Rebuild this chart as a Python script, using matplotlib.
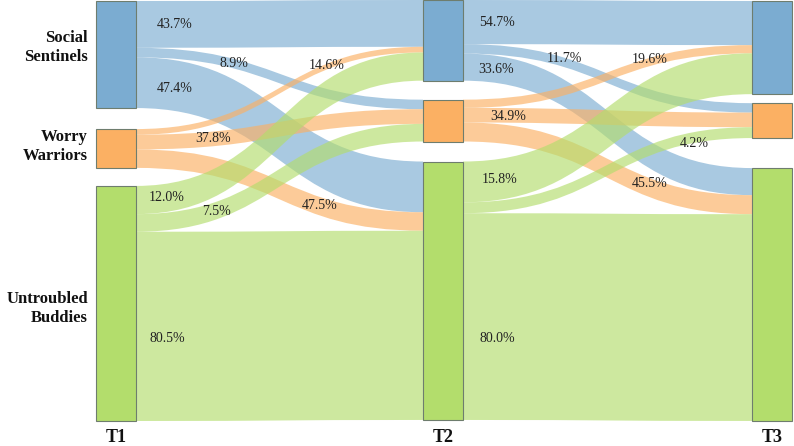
import numpy as np
import matplotlib
matplotlib.use("Agg")
import matplotlib.pyplot as plt
from matplotlib.path import Path
from matplotlib.patches import PathPatch, Rectangle

# ---------------- data ----------------
categories = ["Social\nSentinels", "Worry\nWarriors", "Untroubled\nBuddies"]
timepoints = ["T1", "T2", "T3"]
t1_share = [28.1, 10.2, 61.7]          # % of sample in each profile at T1
flows_t1_t2 = [[43.7, 8.9, 47.4],      # row = source profile, col = target profile (% of source)
               [14.6, 37.8, 47.5],
               [12.0, 7.5, 80.5]]
flows_t2_t3 = [[54.7, 11.7, 33.6],
               [19.6, 34.9, 45.5],
               [15.8, 4.2, 80.0]]

# ---------------- style / layout ----------------
node_colors = ["#7bacd1", "#fbb063", "#b3dd6c"]
flow_alpha = 0.65
edge_color = "#6e7d6e"
col_left = [96, 423, 752]
node_w = 40
col_top = [1, 0, 1]
unit = 3.81                       # vertical units per % of sample
col_gaps = [[21, 18], [19, 20], [9, 30]]
# label position along each flow (fraction of horizontal span) and vertical nudge
label_fx = [[[0.136, 0.34, 0.136], [0.666, 0.27, 0.64], [0.108, 0.28, 0.108]],
            [[0.118, 0.35, 0.114], [0.647, 0.156, 0.647], [0.128, 0.80, 0.118]]]
label_dy = [[[0, 0, 3], [-1, 0, -1], [0, 1, 12]],
            [[0, -4, 0], [-2, 1, -4], [0, 6, 22]]]
cat_label_dy = [-7, -2, 5]

serif = ["Liberation Serif", "DejaVu Serif"]

fig = plt.figure(figsize=(7.94, 4.46), dpi=100)
ax = fig.add_axes([0, 0, 1, 1])
ax.set_xlim(0, 794)
ax.set_ylim(446, 0)
ax.axis("off")

# node sizes
sizes = [np.array(t1_share, dtype=float)]
for M in (flows_t1_t2, flows_t2_t3):
    M = np.array(M) / 100.0
    sizes.append(sizes[-1] @ M)

# node positions
node_top = []
for c in range(3):
    y = col_top[c]
    tops = []
    for k in range(3):
        tops.append(y)
        y += sizes[c][k] * unit
        if k < 2:
            y += col_gaps[c][k]
    node_top.append(tops)


def band(x0, x1, ya0, ya1, yb0, yb1, color):
    xm = (x0 + x1) / 2
    verts = [(x0, ya0), (xm, ya0), (xm, yb0), (x1, yb0),
             (x1, yb1), (xm, yb1), (xm, ya1), (x0, ya1), (x0, ya0)]
    codes = [Path.MOVETO, Path.CURVE4, Path.CURVE4, Path.CURVE4,
             Path.LINETO, Path.CURVE4, Path.CURVE4, Path.CURVE4, Path.CLOSEPOLY]
    ax.add_patch(PathPatch(Path(verts, codes), facecolor=color, alpha=flow_alpha,
                           edgecolor="none", zorder=1))


def center_at(fx, ya, yb):
    ts = np.linspace(0, 1, 2001)
    X = 1.5 * ts * (1 - ts) + ts ** 3
    t = np.interp(fx, X, ts)
    Y = 3 * t ** 2 - 2 * t ** 3
    return ya + (yb - ya) * Y


for s, M in enumerate((flows_t1_t2, flows_t2_t3)):
    x0 = col_left[s] + node_w
    x1 = col_left[s + 1]
    in_pos = {}
    for j in range(3):
        y = node_top[s + 1][j]
        for i in range(3):
            h = sizes[s][i] * M[i][j] / 100 * unit
            in_pos[(i, j)] = (y, y + h)
            y += h
    labels = []
    for i in range(3):
        y = node_top[s][i]
        for j in range(3):
            h = sizes[s][i] * M[i][j] / 100 * unit
            ya0, ya1 = y, y + h
            yb0, yb1 = in_pos[(i, j)]
            band(x0, x1, ya0, ya1, yb0, yb1, node_colors[i])
            fx = label_fx[s][i][j]
            yc = center_at(fx, (ya0 + ya1) / 2, (yb0 + yb1) / 2) + label_dy[s][i][j]
            labels.append((x0 + fx * (x1 - x0), yc, f"{M[i][j]:.1f}%"))
            y += h
    for (lx, ly, txt) in labels:
        ax.text(lx, ly, txt, ha="center", va="center", fontsize=10,
                family=serif, color="#222222", zorder=5)

# nodes
for c in range(3):
    for k in range(3):
        ax.add_patch(Rectangle((col_left[c], node_top[c][k]), node_w, sizes[c][k] * unit,
                               facecolor=node_colors[k], edgecolor=edge_color,
                               linewidth=0.8, zorder=3))
    ax.text(col_left[c] + node_w / 2, 437, timepoints[c], ha="center", va="center",
            fontsize=13, fontweight="bold", family=serif, color="#111111")

for k in range(3):
    yc = node_top[0][k] + sizes[0][k] * unit / 2 + cat_label_dy[k]
    ax.text(88, yc, categories[k], ha="right", va="center", fontsize=12,
            fontweight="bold", family=serif, color="#111111", linespacing=1.2)

fig.savefig("out.png", dpi=100)
